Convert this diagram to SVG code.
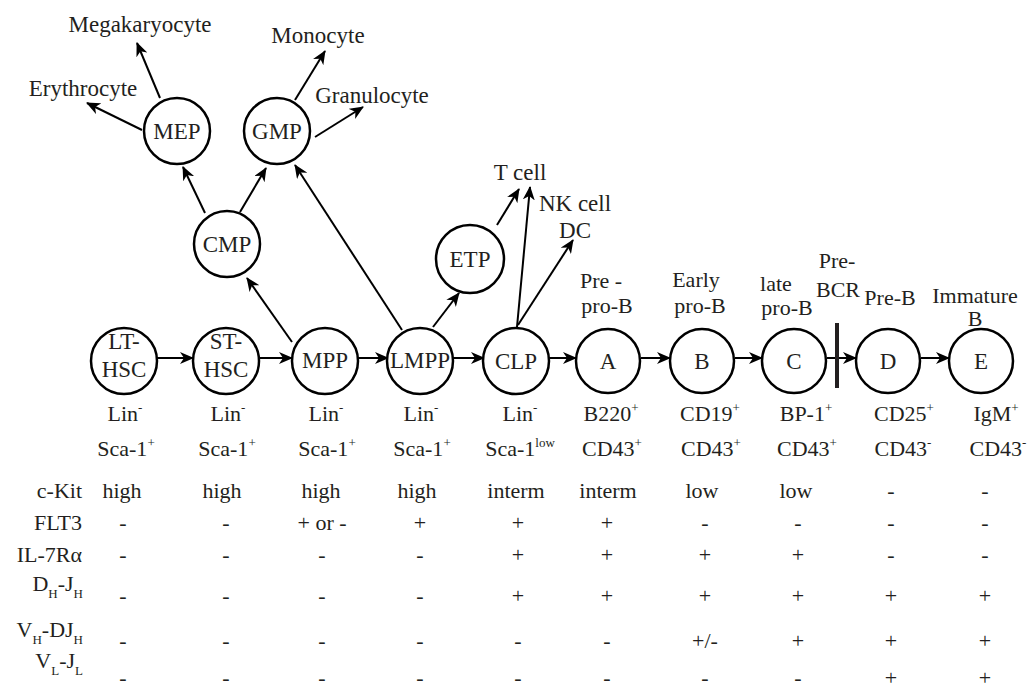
<svg xmlns="http://www.w3.org/2000/svg" width="1036" height="690" viewBox="0 0 1036 690" font-family="'Liberation Serif', 'DejaVu Serif', serif">
<style>
text{font-family:'Liberation Serif','DejaVu Serif',serif;fill:#231f20;font-size:22px}
.t{font-size:23px}
.c{text-anchor:middle}
.r{text-anchor:end}
.node circle{fill:#fff;stroke:#000;stroke-width:2.5}
.node text{font-size:23px;text-anchor:middle}
#connectors line{stroke:#000;stroke-width:2;marker-end:url(#ah)}
.sup{font-size:13px}
.sub{font-size:13px}
</style>
<defs>
<marker id="ah" markerWidth="14" markerHeight="12" refX="13" refY="6" orient="auto" markerUnits="userSpaceOnUse">
<path d="M0,0 L14,6 L0,12 L4,6 z" fill="#000"/>
</marker>
</defs>
<rect width="1036" height="690" fill="#fff"/>
<g id="connectors">
<line x1="157" y1="358" x2="193" y2="358"/>
<line x1="259" y1="358" x2="292" y2="358"/>
<line x1="358" y1="358" x2="388" y2="358"/>
<line x1="453" y1="358" x2="484" y2="358"/>
<line x1="549" y1="358" x2="576" y2="358"/>
<line x1="641" y1="358" x2="670" y2="358"/>
<line x1="735" y1="358" x2="762" y2="358"/>
<line x1="827" y1="358" x2="856" y2="358"/>
<line x1="921" y1="358" x2="949" y2="358"/>
<line x1="292" y1="342" x2="247" y2="278"/>
<line x1="402" y1="330" x2="295" y2="165"/>
<line x1="433" y1="327" x2="459" y2="293"/>
<line x1="205" y1="213" x2="183" y2="167"/>
<line x1="240" y1="212" x2="266" y2="168"/>
<line x1="142" y1="130" x2="87" y2="103"/>
<line x1="160" y1="98" x2="137" y2="43"/>
<line x1="295" y1="100" x2="325" y2="51"/>
<line x1="315" y1="137" x2="363" y2="107"/>
<line x1="497" y1="225" x2="519" y2="189"/>
<line x1="517" y1="327" x2="530" y2="187"/>
<line x1="518" y1="325" x2="573" y2="240"/>
</g>
<rect id="prebcr-bar" x="835" y="323" width="4" height="65" fill="#231f20"/>
<g id="n-lthsc" class="node"><circle cx="124" cy="361" r="33"/><text x="124" y="349">LT-</text><text x="124" y="377">HSC</text></g>
<g id="n-sthsc" class="node"><circle cx="226" cy="361" r="33"/><text x="226" y="349">ST-</text><text x="226" y="377">HSC</text></g>
<g id="n-mpp" class="node"><circle cx="325" cy="361" r="33"/><text x="325" y="368">MPP</text></g>
<g id="n-lmpp" class="node"><circle cx="420" cy="361" r="33"/><text x="420" y="368">LMPP</text></g>
<g id="n-clp" class="node"><circle cx="516" cy="361" r="33"/><text x="516" y="369">CLP</text></g>
<g id="n-a" class="node"><circle cx="608" cy="361" r="32"/><text x="608" y="369">A</text></g>
<g id="n-b" class="node"><circle cx="702" cy="361" r="32"/><text x="702" y="369">B</text></g>
<g id="n-c" class="node"><circle cx="794" cy="361" r="32"/><text x="794" y="369">C</text></g>
<g id="n-d" class="node"><circle cx="888" cy="361" r="32"/><text x="888" y="369">D</text></g>
<g id="n-e" class="node"><circle cx="981" cy="361" r="32"/><text x="981" y="369">E</text></g>
<g id="n-cmp" class="node"><circle cx="227" cy="244" r="33"/><text x="227" y="252">CMP</text></g>
<g id="n-mep" class="node"><circle cx="177" cy="131" r="33"/><text x="177" y="139">MEP</text></g>
<g id="n-gmp" class="node"><circle cx="277" cy="131" r="33"/><text x="277" y="139">GMP</text></g>
<g id="n-etp" class="node"><circle cx="470" cy="259" r="34"/><text x="470" y="267">ETP</text></g>
<g id="labels">
<text class="t c" x="140" y="32">Megakaryocyte</text>
<text class="t c" x="318" y="43">Monocyte</text>
<text class="t c" x="83" y="96">Erythrocyte</text>
<text class="t c" x="372" y="103">Granulocyte</text>
<text class="t c" x="520" y="180">T cell</text>
<text class="t c" x="575" y="211">NK cell</text>
<text class="t c" x="575" y="238">DC</text>
<text class="c" x="601" y="288">Pre -</text>
<text class="c" x="607" y="313">pro-B</text>
<text class="c" x="696" y="287">Early</text>
<text class="c" x="700" y="313">pro-B</text>
<text class="c" x="776" y="291">late</text>
<text class="c" x="787" y="315">pro-B</text>
<text class="c" x="837" y="268">Pre-</text>
<text class="c" x="838" y="297">BCR</text>
<text class="c" x="890" y="305">Pre-B</text>
<text class="c" x="975" y="303">Immature</text>
<text class="c" x="975" y="326">B</text>
</g>
<g id="markers1">
<text class="c" x="125" y="421">Lin<tspan class="sup" dy="-9">-</tspan></text>
<text class="c" x="228" y="421">Lin<tspan class="sup" dy="-9">-</tspan></text>
<text class="c" x="326" y="421">Lin<tspan class="sup" dy="-9">-</tspan></text>
<text class="c" x="421" y="421">Lin<tspan class="sup" dy="-9">-</tspan></text>
<text class="c" x="520" y="421">Lin<tspan class="sup" dy="-9">-</tspan></text>
<text class="c" x="611" y="421">B220<tspan class="sup" dy="-9">+</tspan></text>
<text class="c" x="710" y="421">CD19<tspan class="sup" dy="-9">+</tspan></text>
<text class="c" x="806" y="421">BP-1<tspan class="sup" dy="-9">+</tspan></text>
<text class="c" x="904" y="421">CD25<tspan class="sup" dy="-9">+</tspan></text>
<text class="c" x="996" y="421">IgM<tspan class="sup" dy="-9">+</tspan></text>
<text class="c" x="126" y="456">Sca-1<tspan class="sup" dy="-9">+</tspan></text>
<text class="c" x="227" y="456">Sca-1<tspan class="sup" dy="-9">+</tspan></text>
<text class="c" x="327" y="456">Sca-1<tspan class="sup" dy="-9">+</tspan></text>
<text class="c" x="422" y="456">Sca-1<tspan class="sup" dy="-9">+</tspan></text>
<text class="c" x="520" y="456">Sca-1<tspan class="sup" dy="-9">low</tspan></text>
<text class="c" x="612" y="456">CD43<tspan class="sup" dy="-9">+</tspan></text>
<text class="c" x="711" y="456">CD43<tspan class="sup" dy="-9">+</tspan></text>
<text class="c" x="807" y="456">CD43<tspan class="sup" dy="-9">+</tspan></text>
<text class="c" x="903" y="456">CD43<tspan class="sup" dy="-9">-</tspan></text>
<text class="c" x="998" y="456">CD43<tspan class="sup" dy="-9">-</tspan></text>
</g>
<g id="table-labels">
<text class="r" x="82" y="498">c-Kit</text>
<text class="r" x="82" y="530">FLT3</text>
<text class="r" x="82" y="562">IL-7Rα</text>
<text class="r" x="83" y="591">D<tspan class="sub" dy="7">H</tspan><tspan dy="-7">-J</tspan><tspan class="sub" dy="7">H</tspan></text>
<text class="r" x="83" y="637">V<tspan class="sub" dy="7">H</tspan><tspan dy="-7">-DJ</tspan><tspan class="sub" dy="7">H</tspan></text>
<text class="r" x="83" y="668">V<tspan class="sub" dy="7">L</tspan><tspan dy="-7">-J</tspan><tspan class="sub" dy="7">L</tspan></text>
</g>
<g id="table-values" class="c">
<text class="c" x="122" y="498">high</text><text class="c" x="222" y="498">high</text><text class="c" x="321" y="498">high</text><text class="c" x="417" y="498">high</text><text class="c" x="516" y="498">interm</text><text class="c" x="608" y="498">interm</text><text class="c" x="702" y="498">low</text><text class="c" x="796" y="498">low</text><text class="c" x="891" y="498">-</text><text class="c" x="985" y="498">-</text>
<text class="c" x="123" y="530">-</text><text class="c" x="226" y="530">-</text><text class="c" x="322" y="530">+ or -</text><text class="c" x="420" y="530">+</text><text class="c" x="518" y="530">+</text><text class="c" x="607" y="530">+</text><text class="c" x="705" y="530">-</text><text class="c" x="798" y="530">-</text><text class="c" x="891" y="530">-</text><text class="c" x="985" y="530">-</text>
<text class="c" x="123" y="562">-</text><text class="c" x="226" y="562">-</text><text class="c" x="322" y="562">-</text><text class="c" x="420" y="562">-</text><text class="c" x="518" y="562">+</text><text class="c" x="607" y="562">+</text><text class="c" x="705" y="562">+</text><text class="c" x="798" y="562">+</text><text class="c" x="891" y="562">-</text><text class="c" x="985" y="562">-</text>
<text class="c" x="123" y="603">-</text><text class="c" x="226" y="603">-</text><text class="c" x="322" y="603">-</text><text class="c" x="420" y="603">-</text><text class="c" x="518" y="603">+</text><text class="c" x="607" y="603">+</text><text class="c" x="705" y="603">+</text><text class="c" x="798" y="603">+</text><text class="c" x="891" y="603">+</text><text class="c" x="985" y="603">+</text>
<text class="c" x="123" y="648">-</text><text class="c" x="226" y="648">-</text><text class="c" x="322" y="648">-</text><text class="c" x="420" y="648">-</text><text class="c" x="518" y="648">-</text><text class="c" x="607" y="648">-</text><text class="c" x="705" y="648">+/-</text><text class="c" x="798" y="648">+</text><text class="c" x="891" y="648">+</text><text class="c" x="985" y="648">+</text>
<text class="c" x="123" y="685">-</text><text class="c" x="226" y="685">-</text><text class="c" x="322" y="685">-</text><text class="c" x="420" y="685">-</text><text class="c" x="518" y="685">-</text><text class="c" x="607" y="685">-</text><text class="c" x="705" y="685">-</text><text class="c" x="798" y="685">-</text><text class="c" x="891" y="685">+</text><text class="c" x="985" y="685">+</text>
</g>
</svg>
